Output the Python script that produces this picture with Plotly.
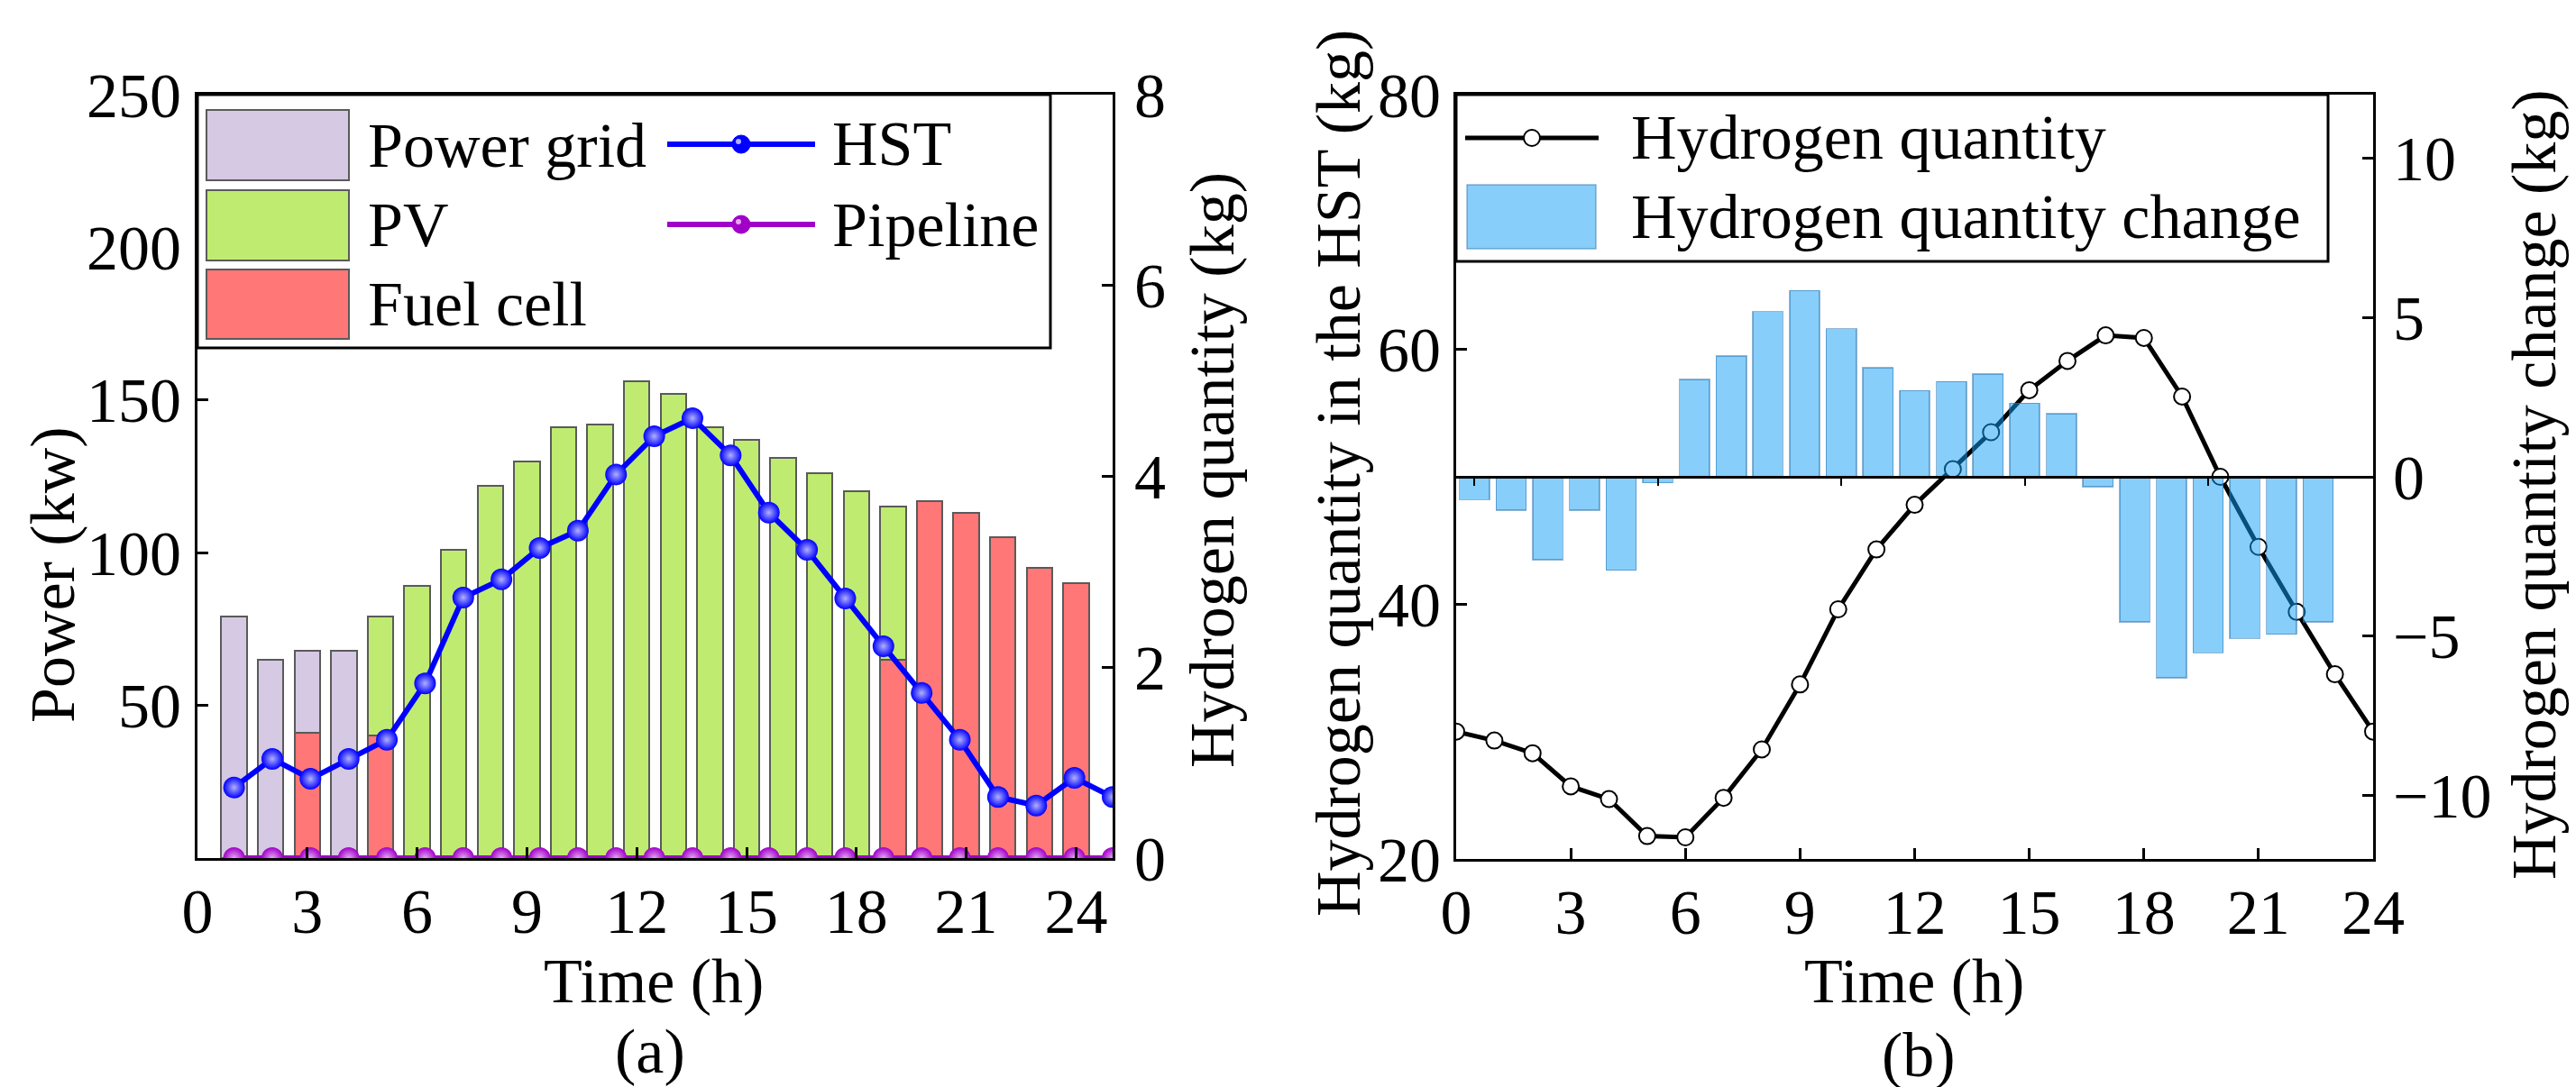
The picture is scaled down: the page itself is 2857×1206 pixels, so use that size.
import plotly.graph_objects as go

# ---- data ----
hours = list(range(1, 25))
grid_kw = [79, 65, 27, 68, None, None, None, None, None, None, None, None,
           None, None, None, None, None, None, None, None, None, None, None, None]
pv_kw = [None, None, None, None, 39, 89, 101, 122, 130, 141, 142, 156,
         152, 141, 137, 131, 126, 120, 50, None, None, None, None, None]
fc_kw = [None, None, 41, None, 40, None, None, None, None, None, None, None,
         None, None, None, None, None, None, 65, 117, 113, 105, 95, 90]
hst_kg = [0.74, 1.04, 0.83, 1.04, 1.24, 1.83, 2.73, 2.92, 3.25, 3.43, 4.02, 4.42,
          4.61, 4.22, 3.62, 3.23, 2.72, 2.22, 1.73, 1.24, 0.64, 0.55, 0.84, 0.64]
pipeline_kg = [0] * 24

hours_b = list(range(0, 25))
h2_qty = [30.0, 29.3, 28.3, 25.7, 24.7, 21.8, 21.7, 24.8, 28.6, 33.7, 39.6, 44.3, 47.8,
          50.6, 53.5, 56.8, 59.1, 61.1, 60.9, 56.3, 50.0, 44.5, 39.4, 34.5, 30.0]
bar_pos_b = list(range(0, 24))
h2_change = [-0.72, -1.04, -2.61, -1.04, -2.93, -0.19, 3.06, 3.79, 5.19, 5.85, 4.65, 3.42,
             2.71, 2.99, 3.23, 2.31, 1.98, -0.31, -4.56, -6.31, -5.53, -5.08, -4.94, -4.56]

W, H = 2857, 1206
FONT = 'Liberation Serif'
FS = 70

GRID_C = '#D5C9E3'
PV_C = '#BFEC70'
FC_C = '#FF7777'
EDGE_C = '#5a5a5a'
HST_C = '#0000FF'
PIPE_C = '#A000C8'
CHG_C = 'rgba(15,157,245,0.5)'
CHG_EDGE = 'rgba(40,110,170,0.5)'


def px(x):
    return x / W


def py(y):
    return 1 - y / H


fig = go.Figure()

# (a) stacked power bars, fuel cell at the bottom
for vals, name, col in [(fc_kw, 'Fuel cell', FC_C), (grid_kw, 'Power grid', GRID_C), (pv_kw, 'PV', PV_C)]:
    fig.add_trace(go.Bar(x=hours, y=vals, name=name, width=0.7,
                         marker=dict(color=col, line=dict(color=EDGE_C, width=2)),
                         xaxis='x', yaxis='y'))

for vals, name, col, hi in [(hst_kg, 'HST', HST_C, '#b0b0ff'), (pipeline_kg, 'Pipeline', PIPE_C, '#e6a6f5')]:
    fig.add_trace(go.Scatter(x=hours, y=vals, name=name, mode='lines+markers',
                             line=dict(color=col, width=6),
                             marker=dict(size=24, color=col, gradient=dict(type='radial', color=hi)),
                             xaxis='x2', yaxis='y2'))

# (b) hydrogen quantity line, change bars drawn above it
fig.add_trace(go.Scatter(x=hours_b, y=h2_qty, name='Hydrogen quantity', mode='lines+markers',
                         line=dict(color='black', width=5),
                         marker=dict(size=18, color='white', line=dict(color='black', width=2)),
                         xaxis='x3', yaxis='y3'))
fig.add_trace(go.Bar(x=bar_pos_b, y=h2_change, name='Hydrogen quantity change', width=0.82,
                     marker=dict(color=CHG_C, line=dict(color=CHG_EDGE, width=1.5)),
                     xaxis='x4', yaxis='y4'))

ax = dict(showline=True, linecolor='black', linewidth=3, ticks='inside', ticklen=12,
          tickwidth=3, tickcolor='black', showgrid=False, zeroline=False, automargin=False,
          tickfont=dict(family=FONT, size=FS, color='black'))

dom_ax = [px(211), px(1226)]
dom_ay = [py(944), py(97)]
dom_bx = [px(1607), px(2624)]
dom_by = [py(945), py(97)]
chg_range = [-12, 12]
zero_pos = dom_by[0] + (0 - chg_range[0]) / (chg_range[1] - chg_range[0]) * (dom_by[1] - dom_by[0])

fig.update_layout(
    template='none',
    width=W, height=H, margin=dict(l=0, r=0, t=0, b=0, pad=0), autosize=False,
    paper_bgcolor='white', plot_bgcolor='white',
    barmode='stack', showlegend=False,
    font=dict(family=FONT, size=FS, color='black'),
    xaxis=dict(domain=dom_ax, range=[0, 25], anchor='y', tickvals=list(range(0, 25, 3)), mirror=True,
               ticklabelstandoff=-4, **ax),
    yaxis=dict(domain=dom_ay, range=[0, 250], anchor='x', tickvals=[50, 100, 150, 200, 250],
               ticklabelstandoff=1, **ax),
    xaxis2=dict(overlaying='x', anchor='y', range=[1 / 24, 24], visible=False, automargin=False),
    yaxis2=dict(overlaying='y', anchor='x', side='right', range=[0, 8], tickvals=[0, 2, 4, 6, 8],
                ticklabelstandoff=7, **ax),
    xaxis3=dict(domain=dom_bx, range=[0, 24], anchor='y3', tickvals=list(range(0, 25, 3)), mirror=True,
                ticklabelstandoff=-4, **ax),
    yaxis3=dict(domain=dom_by, range=[20, 80], anchor='x3', tickvals=[20, 40, 60, 80], **ax),
    yaxis4=dict(overlaying='y3', anchor='x3', side='right', range=chg_range, tickvals=[-10, -5, 0, 5, 10],
                ticklabelstandoff=5, **ax),
    xaxis4=dict(overlaying='x3', anchor='free', position=zero_pos, range=[-0.5, 24.5],
                showline=True, linecolor='black', linewidth=3, ticks='outside', ticklen=8, tickwidth=2,
                tickcolor='black', tickvals=[0, 5, 10, 15, 20], showticklabels=False,
                showgrid=False, zeroline=False, automargin=False),
)

shapes = []
annots = []


def rect(x0, y0, x1, y1, fill, edge, lw):
    shapes.append(dict(type='rect', xref='paper', yref='paper', x0=px(x0), x1=px(x1), y0=py(y1), y1=py(y0),
                       fillcolor=fill, line=dict(color=edge, width=lw), layer='above'))


def hline(x0, x1, y, col, lw):
    shapes.append(dict(type='line', xref='paper', yref='paper', x0=px(x0), x1=px(x1), y0=py(y), y1=py(y),
                       line=dict(color=col, width=lw), layer='above'))


def dot(cx, cy, r, fill, edge, lw):
    shapes.append(dict(type='circle', xref='paper', yref='paper', x0=px(cx - r), x1=px(cx + r),
                       y0=py(cy + r), y1=py(cy - r), fillcolor=fill, line=dict(color=edge, width=lw),
                       layer='above'))


def text(x, y, s, xanchor='left', angle=0):
    annots.append(dict(xref='paper', yref='paper', x=px(x), y=py(y), text=s, showarrow=False,
                       xanchor=xanchor, yanchor='middle', textangle=angle,
                       font=dict(family=FONT, size=FS, color='black')))


# legend of (a)
rect(211, 97, 1157, 378, 'white', 'black', 3)
for (y0, y1, col, label) in [(114, 192, GRID_C, 'Power grid'), (203, 281, PV_C, 'PV'), (291, 368, FC_C, 'Fuel cell')]:
    rect(221, y0, 379, y1, col, EDGE_C, 2)
    text(398, (y0 + y1) / 2, label)
for (y, col, hi, label) in [(152, HST_C, '#b0b0ff', 'HST'), (241, PIPE_C, '#e6a6f5', 'Pipeline')]:
    hline(732, 896, y, col, 6)
    dot(814, y, 10, col, col, 1)
    dot(811, y - 3, 3, hi, hi, 0)
    text(913, y, label)

# legend of (b)
rect(1607, 97, 2574, 282, 'white', 'black', 3)
hline(1617, 1765, 145, 'black', 5)
dot(1691, 145, 9, 'white', 'black', 2)
text(1799, 145, 'Hydrogen quantity')
rect(1619, 197, 1762, 268, CHG_C, CHG_EDGE, 1.5)
text(1799, 232, 'Hydrogen quantity change')

# axis titles and panel labels
text(50, 630, 'Power (kw)', 'center', -90)
text(1337, 514, 'Hydrogen quantity (kg)', 'center', -90)
text(717, 1080, 'Time (h)', 'center')
text(713, 1158, '(a)', 'center')
text(1476, 517, 'Hydrogen quantity in the HST (kg)', 'center', -90)
text(2802, 530, 'Hydrogen quantity change (kg)', 'center', -90)
text(2115, 1080, 'Time (h)', 'center')
text(2120, 1162, '(b)', 'center')

fig.update_layout(shapes=shapes, annotations=annots)

fig.write_html("out.html")
